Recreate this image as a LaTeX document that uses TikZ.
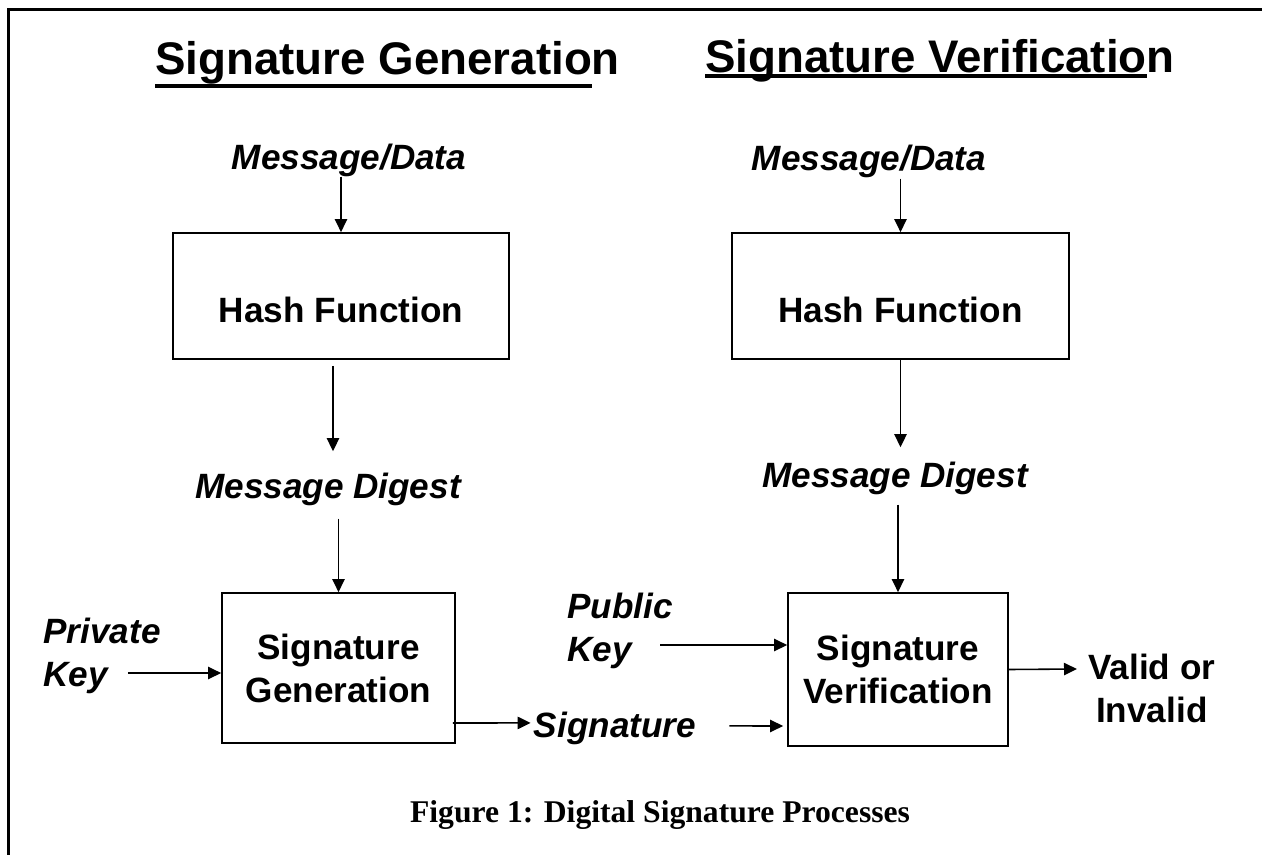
\documentclass[tikz,border=0pt]{standalone}
\usepackage{fontspec}
\setmainfont{Liberation Sans}
\newfontfamily\capfont{Liberation Serif}
\usetikzlibrary{arrows.meta,calc}
\newcommand{\thickul}[2][7.4pt]{\setbox0\hbox{#2}\rlap{\rule[-#1]{\wd0}{2.3pt}}\box0}

\begin{document}
\begin{tikzpicture}[x=0.02cm, y=-0.02cm,
    title/.style={inner sep=0, font=\fontsize{26pt}{30pt}\selectfont\bfseries},
    lbl/.style={inner sep=0, font=\fontsize{20pt}{24.5pt}\selectfont\bfseries\itshape},
    outlbl/.style={inner sep=0, align=center, font=\fontsize{20pt}{24.5pt}\selectfont\bfseries},
    procbox/.style={draw, line width=1pt, inner sep=0, align=center, font=\fontsize{20pt}{24.5pt}\selectfont\bfseries},
    hashbox/.style={procbox, minimum height=2.52cm, text height=29.6pt, text depth=0pt},
    arr/.style={-{Triangle[length=7.4pt,width=7pt]}, line width=0.9pt}]
  \useasboundingbox (0,0) rectangle (1264,855);
  % frame, open at the right and bottom
  \draw[line width=1.4pt] (8.5,855) -- (8.5,9.5) -- (1262,9.5);

  % Headings
  \node[title, anchor=base west] (genTitle) at (155,75) {\thickul{Signature Generatio}n};
  \node[title, anchor=base east] (verTitle) at (1175,72) {\thickul[3.4pt]{Signature Verificatio}n};

  % Generation side
  \node[lbl, anchor=base] (msgL) at (349,169) {Message/Data};
  \node[hashbox, minimum width=6.72cm] (hashL) at (341,296) {Hash Function};
  \node[lbl, anchor=base] (digL) at (328,498) {Message Digest};
  \node[procbox, minimum width=4.66cm, minimum height=3cm] (sigGen) at (338.5,668) {Signature\\Generation};
  \node[lbl, anchor=west, align=left] (privKey) at (43,656) {Private\\Key};
  \node[lbl, anchor=base] (sig) at (615,737) {Signature};

  % Verification side
  \node[lbl, anchor=base] (msgR) at (869,171) {Message/Data};
  \node[hashbox, minimum width=6.74cm] (hashR) at (900.5,296) {Hash Function};
  \node[lbl, anchor=base] (digR) at (895,487) {Message Digest};
  \node[procbox, minimum width=4.4cm, minimum height=3.06cm] (sigVer) at (898,669.5) {Signature\\Verification};
  \node[lbl, anchor=west, align=left] (pubKey) at (567,630.5) {Public\\Key};
  \node[outlbl, anchor=west] (valid) at (1088,688.5) {Valid or\\Invalid};

  % Caption
  \node[inner sep=0, anchor=base, font=\capfont\fontsize{18pt}{22pt}\selectfont\bfseries] (caption) at (660,822) {Figure 1: Digital Signature Processes};

  % Connectors
  \draw[arr] (msgL.south -| hashL.north) -- (hashL.north);
  \draw[arr] ($(hashL.south)+(-8,6)$) -- ($(digL.north)+(5,-21)$);
  \draw[arr] ($(digL.south -| sigGen.north)+(0,13)$) -- (sigGen.north);
  \draw[arr] ($(privKey.east)+(-33,17)$) -- ($(sigGen.west)+(0,5)$);
  \draw[arr] ($(sigGen.east)+(-3,55)$) -- ($(sig.west)+(-3,-5)$);
  \draw[arr] (msgR.south -| hashR.north) -- (hashR.north);
  \draw[arr] (hashR.south) -- ($(hashR.south |- digR.north)+(0,-14)$);
  \draw[arr] ($(digR.south -| sigVer.north)+(0,10)$) -- (sigVer.north);
  \draw[arr] ($(pubKey.east)+(-13,14.5)$) -- ($(sigVer.west)+(0,-24.5)$);
  \draw[arr] ($(sig.east)+(33,-2)$) -- ($(sigVer.west)+(-4,56.5)$);
  \draw[arr] (sigVer.east) -- ($(valid.west)+(-11,-19.5)$);
\end{tikzpicture}
\end{document}
